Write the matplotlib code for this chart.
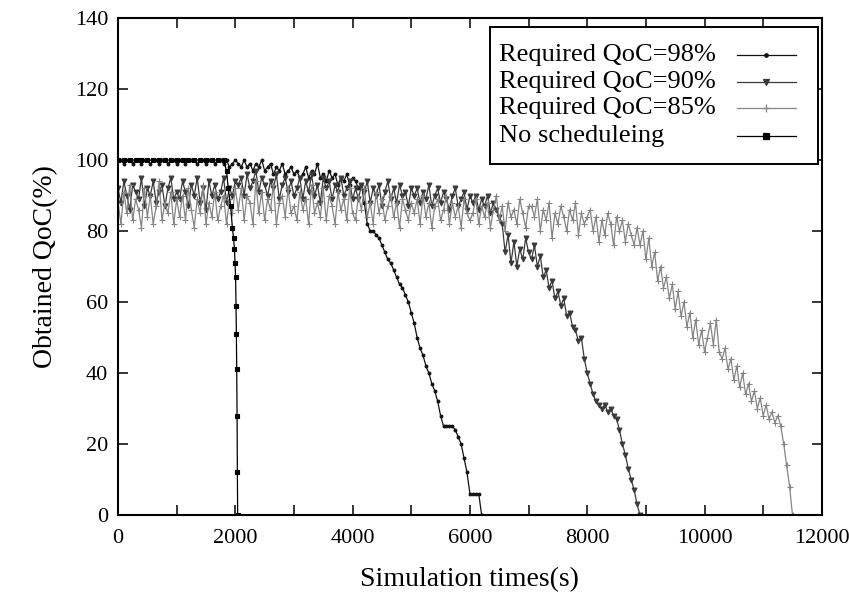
"""Obtained QoC vs simulation time, gnuplot-style monochrome line chart."""
import matplotlib
import matplotlib.pyplot as plt
import numpy as np
from matplotlib.lines import Line2D
from matplotlib.patches import Rectangle

matplotlib.use("Agg")

# Required QoC = 98%  (0 .. 6200 s)
q98 = [100, 100, 99, 100, 100, 99, 100, 100, 99, 100, 100, 99, 100, 100, 99, 100, 100, 99, 100, 100, 99,
       100, 100, 99, 100, 100, 100, 99, 100, 100, 99, 100, 100, 99, 100, 100, 99, 100, 98, 99, 100,
       99, 98, 100, 98, 99, 97, 99, 98, 100, 97, 98, 99, 96, 98, 97, 99, 96, 97, 98, 96,
       97, 95, 96, 98, 95, 97, 96, 99, 95, 96, 94, 97, 95, 96, 93, 95, 94, 96, 93, 95, 94, 92, 93, 88,
       82, 80, 80, 79, 78, 76, 74, 72, 71, 69,
       67, 65, 64, 62, 60, 57, 54, 50, 47, 45,
       42, 40, 37, 35, 32, 28, 25, 25, 25, 25,
       24, 22, 20, 16, 12, 6, 6, 6, 6, 0]
t98 = np.arange(0, 6201, 50)

# Required QoC = 90%  (0 .. 8900 s)
q90 = [92, 88, 94, 90, 86, 93, 91, 89, 95, 87, 92, 90, 94, 88, 91, 93, 87, 92, 95, 89, 91,
       89, 94, 91, 87, 93, 90, 95, 88, 92, 86, 94, 90, 93, 89, 91, 95, 88, 92, 90, 94,
       93, 95, 90, 96, 92, 94, 97, 91, 95, 93, 90, 94, 92, 96, 89, 93, 95, 91, 94, 90,
       92, 95, 89, 94, 91, 96, 90, 93, 88, 95, 92, 94, 89, 93, 91, 95, 90, 92, 94, 89,
       92, 89, 93, 91, 94, 88, 92, 90, 93, 87, 91, 94, 89, 92, 88, 93, 90, 91, 87, 92,
       90, 92, 88, 91, 89, 93, 87, 90, 92, 88, 91, 89, 86, 90, 92, 87, 89, 91, 86, 90,
       88, 90, 86, 89, 87, 90, 85, 88, 86, 84,
       82, 74, 79, 71, 77, 70, 75, 72, 78, 74,
       72, 76, 70, 73, 67, 69, 64, 66, 61, 63,
       59, 61, 56, 57, 53, 52, 49, 50, 44, 40,
       37, 34, 32, 31, 30, 31, 29, 30, 28, 27,
       24, 20, 17, 13, 10, 7, 3, 0]
t90 = np.arange(0, 8901, 50)

# Required QoC = 85%  (0 .. 11500 s)
q85 = [88, 82, 91, 85, 93, 83, 89, 86, 81, 92, 84, 90, 82, 87, 94, 83, 88, 85, 91, 82, 89,
       84, 90, 83, 92, 86, 81, 89, 85, 93, 82, 88, 84, 91, 83, 87, 90, 82, 89, 85, 92,
       86, 92, 83, 90, 88, 82, 94, 85, 91, 83, 89, 86, 93, 82, 88, 90, 84, 92, 85, 87,
       83, 91, 86, 89, 82, 93, 85, 88, 84, 92, 83, 90, 87, 82, 91, 86, 89, 83, 92, 85,
       83, 90, 86, 92, 84, 88, 82, 91, 85, 89, 83, 87, 90, 84, 88, 81, 89, 86, 83, 88,
       85, 89, 82, 90, 84, 88, 81, 87, 89, 83, 86, 90, 82, 88, 84, 87, 81, 89, 85, 83,
       85, 89, 82, 87, 84, 88, 81, 86, 90, 83, 87, 80, 88, 84, 86, 82, 89, 85, 81, 87,
       87, 84, 89, 80, 86, 83, 88, 78, 85, 82, 87, 84, 80, 86, 83, 88, 79, 85, 82, 84,
       86, 80, 84, 77, 83, 79, 85, 82, 76, 84, 80, 83, 77, 82, 79, 76,
       81, 76, 80, 72, 78, 70, 74, 66, 70, 64,
       67, 61, 65, 58, 63, 56, 60, 53, 57, 50,
       55, 48, 52, 46, 50, 54, 48, 55, 46, 44,
       47, 41, 44, 38, 42, 36, 40, 34, 37, 32,
       35, 30, 33, 28, 31, 27, 29, 26, 28, 25,
       20, 14, 8, 0]
t85 = np.arange(0, 11501, 50)

# No scheduling
t_ns = [0, 100, 200, 300, 400, 500, 600, 700, 800, 900, 1000, 1100, 1200, 1300,
        1400, 1500, 1600, 1700, 1800, 1850, 1880, 1920, 1950, 1970, 1985, 1995,
        2005, 2012, 2018, 2024, 2030, 2035, 2040]
q_ns = [100, 100, 100, 100, 100, 100, 100, 100, 100, 100, 100, 100, 100, 100,
        100, 100, 100, 100, 100, 97, 92, 87, 81, 78, 75, 71, 67, 59, 51, 41, 28,
        12, 0]

series = [
    ("Required QoC=98%", t98, q98, "#111111", ".", 4),
    ("Required QoC=90%", t90, q90, "#3a3a3a", "v", 3.5),
    ("Required QoC=85%", t85, q85, "#858585", "+", 4.5),
    ("No scheduleing", t_ns, q_ns, "#000000", "s", 3),
]

plt.rcParams["font.family"] = ["Liberation Serif", "DejaVu Serif"]

fig = plt.figure(figsize=(8.49, 5.93), dpi=100)
ax = fig.add_axes([0.139, 0.1315, 0.829, 0.838])

for label, t, q, color, marker, ms in series:
    ax.plot(np.asarray(t), np.asarray(q), color=color, lw=0.9, marker=marker,
            markersize=ms, markeredgewidth=0.8, label=label)

ax.set_xlim(0, 12000)
ax.set_ylim(0, 140)
ax.set_xticks(np.arange(0, 12001, 1000))
ax.set_xticklabels([str(v) if v % 2000 == 0 else "" for v in range(0, 12001, 1000)])
ax.set_yticks(np.arange(0, 141, 20))
ax.tick_params(direction="in", length=7, width=1.1, top=True, right=True,
               labelsize=16)
ax.tick_params(axis="x", pad=10)
ax.tick_params(axis="y", pad=7)
for sp in ax.spines.values():
    sp.set_linewidth(1.5)

ax.set_xlabel("Simulation times(s)", fontsize=20, labelpad=14)
ax.set_ylabel("Obtained QoC(%)", fontsize=20, labelpad=12)

# gnuplot-style key: text left-aligned, sample on the right
box_x0, box_x1, box_y0, box_y1 = 0.528, 0.994, 0.707, 0.982
ax.add_patch(Rectangle((box_x0, box_y0), box_x1 - box_x0, box_y1 - box_y0,
                       transform=ax.transAxes, facecolor="white",
                       edgecolor="black", lw=1.4, zorder=5))
row_y = [0.925, 0.872, 0.820, 0.762]
for (label, _, _, color, marker, ms), y in zip(series, row_y):
    ax.text(box_x0 + 0.013, y, label, transform=ax.transAxes, fontsize=19,
            va="center", ha="left", zorder=6)
    ax.add_line(Line2D([0.879, 0.964], [y, y], transform=ax.transAxes,
                       color=color, lw=0.9, zorder=6))
    ax.add_line(Line2D([0.921], [y], transform=ax.transAxes, color=color,
                       marker=marker, markersize=ms + 1, markeredgewidth=0.9,
                       zorder=6))

fig.savefig("out.png", dpi=100)
